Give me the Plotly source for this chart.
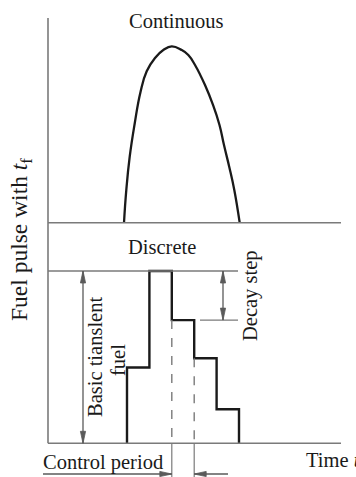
import plotly.graph_objects as go

# ---- data (time in control periods, fuel as fraction of full pulse) ----
continuous_t = [-0.134, -0.031, 0.121, 0.344, 0.603, 0.879, 1.25, 1.621, 1.996,
                2.442, 2.737, 3.036, 3.482, 3.839, 4.129, 4.330, 4.571, 4.790, 5.031]
continuous_fuel = [0.0, 0.186, 0.375, 0.564, 0.743, 0.860, 0.936, 0.981, 1.002,
                   0.981, 0.953, 0.896, 0.782, 0.669, 0.555, 0.441, 0.314, 0.186, 0.0]

step_t = [0, 0, 1, 1, 2, 2, 3, 3, 4, 4, 5, 5]
step_fuel = [0, 0.44, 0.44, 1.0, 1.0, 0.715, 0.715, 0.494, 0.494, 0.198, 0.198, 0]

# ---- pixel mapping helpers (layout only) ----
W, H = 356, 477
X0, DX = 127.0, 22.4           # px of t=0, px per control period
YB, DY = 443.3, 172.3          # lower panel baseline px, px per unit
YB2, DY2 = 222.7, 176.0        # upper panel baseline px, px per unit


def t_of(px):
    return (px - X0) / DX


def v_of(py):
    return (YB - py) / DY


def u_of(py):
    return (YB2 - py) / DY2


AXC = "#7a7a7a"
ARC = "#5a5a5a"
INK = "#1a1a1a"
FAM = "Liberation Serif, Times New Roman, serif"
FONT = dict(family=FAM, size=20.5, color=INK)

fig = go.Figure()

fig.add_trace(go.Scatter(x=continuous_t, y=continuous_fuel, yaxis="y2", mode="lines",
                         line=dict(color=INK, width=2.3, shape="spline", smoothing=1.3),
                         hoverinfo="skip"))
fig.add_trace(go.Scatter(x=step_t, y=step_fuel, mode="lines",
                         line=dict(color=INK, width=2.4), hoverinfo="skip"))

shapes = []
tA = t_of(48)
tE = t_of(341)
# axes
shapes.append(dict(type="line", xref="x", yref="y", x0=tA, x1=tA, y0=v_of(18), y1=0,
                   line=dict(color=AXC, width=1.6)))
shapes.append(dict(type="line", xref="x", yref="y2", x0=tA, x1=tE, y0=0, y1=0,
                   line=dict(color=AXC, width=1.6)))
shapes.append(dict(type="line", xref="x", yref="y", x0=tA, x1=tE, y0=0, y1=0,
                   line=dict(color=AXC, width=1.6)))
# full-pulse level
shapes.append(dict(type="line", xref="x", yref="y", x0=tA, x1=t_of(238), y0=1, y1=1,
                   line=dict(color=AXC, width=1.4)))
# decay step reference
shapes.append(dict(type="line", xref="x", yref="y", x0=t_of(200), x1=t_of(238),
                   y0=step_fuel[5], y1=step_fuel[5], line=dict(color=AXC, width=1.4)))
# dashed and solid guides for control period
for tt, lev in [(step_t[4], step_fuel[5]), (step_t[6], step_fuel[7])]:
    shapes.append(dict(type="line", xref="x", yref="y", x0=tt, x1=tt, y0=lev, y1=0,
                       line=dict(color=AXC, width=1.4, dash="dash")))
    shapes.append(dict(type="line", xref="x", yref="y", x0=tt, x1=tt, y0=0, y1=v_of(H),
                       line=dict(color=AXC, width=1.2)))

HW, HL = 2.6, 12.0   # arrowhead half-width and length in px


def head(tx, ty, direction):
    # tip at (tx, ty) in data coords of x / y
    if direction == "up":
        p = [(tx, ty), (tx - HW / DX, ty - HL / DY), (tx + HW / DX, ty - HL / DY)]
    elif direction == "down":
        p = [(tx, ty), (tx - HW / DX, ty + HL / DY), (tx + HW / DX, ty + HL / DY)]
    elif direction == "right":
        p = [(tx, ty), (tx - HL / DX, ty + HW / DY), (tx - HL / DX, ty - HW / DY)]
    else:
        p = [(tx, ty), (tx + HL / DX, ty + HW / DY), (tx + HL / DX, ty - HW / DY)]
    path = "M{},{} L{},{} L{},{} Z".format(p[0][0], p[0][1], p[1][0], p[1][1],
                                          p[2][0], p[2][1])
    shapes.append(dict(type="path", xref="x", yref="y", path=path,
                       fillcolor=ARC, line=dict(color=ARC, width=0.8)))


def vline(tx, y0, y1):
    shapes.append(dict(type="line", xref="x", yref="y", x0=tx, x1=tx, y0=y0, y1=y1,
                       line=dict(color=ARC, width=1.3)))


def hline(x0, x1, y):
    shapes.append(dict(type="line", xref="x", yref="y", x0=x0, x1=x1, y0=y, y1=y,
                       line=dict(color=ARC, width=1.3)))


# basic transient fuel arrow
tb = t_of(83)
vline(tb, 0, 1)
head(tb, 1, "up")
head(tb, 0, "down")
# decay step arrow
td = t_of(223)
vline(td, step_fuel[5], 1)
head(td, 1, "up")
head(td, step_fuel[5], "down")
# control period arrows
yc = v_of(474)
hline(t_of(43), step_t[4], yc)
head(step_t[4], yc, "right")
hline(step_t[6], t_of(228), yc)
head(step_t[6], yc, "left")

annotations = []


def text(s, px, py, angle=0, xanchor="center", font=FONT):
    annotations.append(dict(x=t_of(px), y=v_of(py), xref="x", yref="y", text=s,
                            showarrow=False, font=font, textangle=angle,
                            xanchor=xanchor, yanchor="middle"))


text("Continuous", 176.5, 21)
text("Discrete", 162, 247)
text("Control period", 103, 462)
text("Time <i>t</i>", 304, 460, xanchor="left")
text("Fuel pulse with <i>t</i><sub>f</sub>", 21, 240, angle=-90,
     font=dict(family=FAM, size=23.5, color=INK))
text("Basic tianslent", 95, 357, angle=-90)
text("fuel", 118, 360, angle=-90)
text("Decay step", 250, 296, angle=-90)

fig.update_layout(
    width=W, height=H, margin=dict(l=0, r=0, t=0, b=0),
    paper_bgcolor="white", plot_bgcolor="white", showlegend=False,
    xaxis=dict(range=[t_of(0), t_of(W)], visible=False, fixedrange=True),
    yaxis=dict(range=[v_of(H), v_of(0)], visible=False, fixedrange=True),
    yaxis2=dict(range=[u_of(H), u_of(0)], visible=False, overlaying="y",
                fixedrange=True),
    shapes=shapes, annotations=annotations,
)

fig.write_html("out.html", config={"displayModeBar": False})
